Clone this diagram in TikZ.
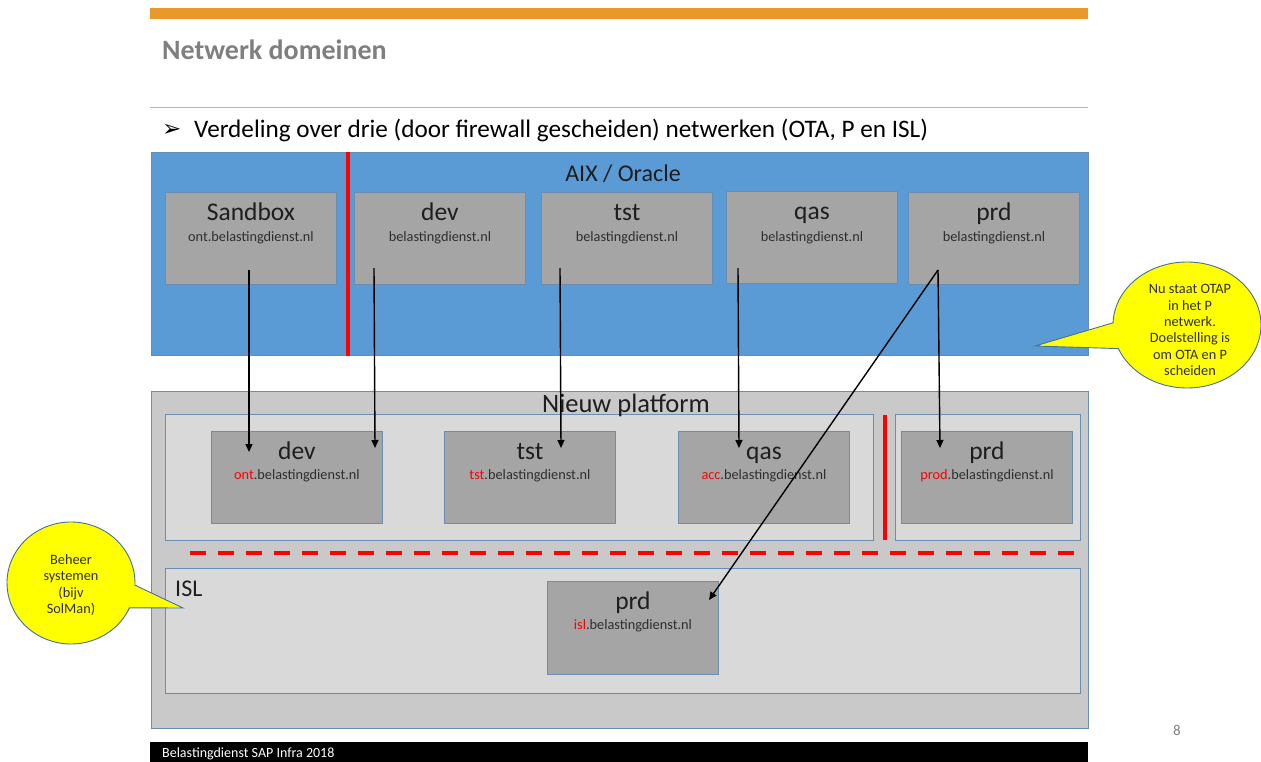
\documentclass[tikz,border=0pt]{standalone}
\usepackage{fontspec}
\setmainfont{Carlito}
\newfontfamily\dejavu{DejaVu Sans}
\usetikzlibrary{arrows.meta,calc}
\definecolor{orng}{HTML}{E8992A}
\definecolor{aixblue}{HTML}{5B9BD5}
\definecolor{bord}{HTML}{41719C}
\definecolor{boxbord}{HTML}{6A8DB3}
\definecolor{boxgray}{HTML}{A5A5A5}
\definecolor{platgray}{HTML}{C9C9C9}
\definecolor{innergray}{HTML}{D9D9D9}
\definecolor{ttlgray}{HTML}{7F7F7F}
\definecolor{txtdark}{HTML}{1E1E1E}
\definecolor{domtxt}{HTML}{2E2E2E}
\definecolor{fwred}{HTML}{FF0000}
\definecolor{calyellow}{HTML}{FFFF00}
\begin{document}
\begin{tikzpicture}[x=1pt,y=-1pt,
  region/.style={draw=boxbord, line width=0.9pt, inner sep=0pt, anchor=north west},
  sysbox/.style={draw=boxbord, line width=0.9pt, fill=boxgray, minimum width=171pt, minimum height=92pt, inner sep=0pt, anchor=north west},
  ttl/.style={font=\fontsize{25.5}{29}\selectfont, text=txtdark, inner sep=0pt, anchor=base},
  dom/.style={font=\fontsize{14.3}{17}\selectfont, text=domtxt, inner sep=0pt, anchor=base},
  lbl/.style={font=\fontsize{24}{28}\selectfont, text=txtdark, inner sep=0pt, anchor=base},
  arr/.style={line width=1.4pt, draw=black, -{Triangle[length=8pt,width=7pt]}},
  fwline/.style={draw=fwred, line width=3.5pt},
  callout/.style={draw=bord, line width=0.9pt, fill=calyellow},
  calltxt/.style={font=\fontsize{14.3}{16.3}\selectfont, text=black!85!olive, align=center, inner sep=0pt}
]
\useasboundingbox (0,0) rectangle (1261,762);
\fill[white] (0,0) rectangle (1261,762);

% header
\fill[orng] (150,8) rectangle (1088,19);
\node[font=\fontsize{28}{32}\selectfont\bfseries, text=ttlgray, inner sep=0pt, anchor=base west] (title) at (162,60) {Netwerk domeinen};
\draw[draw=black!28, line width=1pt] (150,108) -- (1088,108);
\node[font=\fontsize{23}{26}\selectfont\dejavu, inner sep=0pt, anchor=base west] (bul) at (162,137) {➢};
\node[font=\fontsize{25.2}{29}\selectfont, text=black, inner sep=0pt, anchor=base west] (sub) at (194,138) {Verdeling over drie (door firewall gescheiden) netwerken (OTA, P en ISL)};

% regions
\node[region, fill=aixblue, draw=bord!80, minimum width=937pt, minimum height=203pt] (aix) at (151,152) {};
\node[region, fill=platgray, minimum width=937pt, minimum height=337pt] (plat) at (151,391) {};
\node[region, fill=innergray, minimum width=708pt, minimum height=126pt] (ota) at (165,414) {};
\node[region, fill=innergray, minimum width=185pt, minimum height=126pt] (pnet) at (895,414) {};
\node[region, fill=innergray, minimum width=915pt, minimum height=125pt] (isl) at (165,568) {};

\node[lbl] (aixT) at (623,182) {AIX / Oracle};
\node[lbl, font=\fontsize{26.5}{30}\selectfont] (platT) at (626,412) {Nieuw platform};
\node[lbl, anchor=base west] (islT) at (175,596) {ISL};

% firewalls
\draw[fwline] ([xshift=197pt]aix.north west) -- ([xshift=197pt]aix.south west);
\draw[fwline, line width=4pt] ([shift={(-10,1)}]pnet.north west) -- ([shift={(-10,-1)}]pnet.south west);
\draw[fwline, line width=4pt, dash pattern=on 16pt off 12pt] ([shift={(25,-15)}]isl.north west) -- ([shift={(0,-15)}]isl.north east);

% top systems
\node[sysbox] (sb) at (165,192) {};
\node[sysbox] (tdev) at (354,192) {};
\node[sysbox] (ttst) at (541,192) {};
\node[sysbox] (tqas) at (726,191) {};
\node[sysbox] (tprd) at (908,192) {};
\node[ttl] (sbT) at ([shift={(0,29)}]sb.north) {Sandbox};
\node[dom] (sbD) at ([shift={(0,50)}]sb.north) {ont.belastingdienst.nl};
\node[ttl] (tdevT) at ([shift={(0,29)}]tdev.north) {dev};
\node[dom] (tdevD) at ([shift={(0,50)}]tdev.north) {belastingdienst.nl};
\node[ttl] (ttstT) at ([shift={(0,29)}]ttst.north) {tst};
\node[dom] (ttstD) at ([shift={(0,50)}]ttst.north) {belastingdienst.nl};
\node[ttl] (tqasT) at ([shift={(0,29)}]tqas.north) {qas};
\node[dom] (tqasD) at ([shift={(0,50)}]tqas.north) {belastingdienst.nl};
\node[ttl] (tprdT) at ([shift={(0,29)}]tprd.north) {prd};
\node[dom] (tprdD) at ([shift={(0,50)}]tprd.north) {belastingdienst.nl};

% lower systems
\node[sysbox] (ldev) at (211,431) {};
\node[sysbox] (ltst) at (444,431) {};
\node[sysbox] (lqas) at (678,431) {};
\node[sysbox] (lprd) at (901,431) {};
\node[sysbox, minimum height=93pt] (iprd) at (547,581) {};
\node[ttl] (ldevT) at ([shift={(0,28)}]ldev.north) {dev};
\node[dom] (ldevD) at ([shift={(0,48)}]ldev.north) {{\color{fwred}ont}.belastingdienst.nl};
\node[ttl] (ltstT) at ([shift={(0,28)}]ltst.north) {tst};
\node[dom] (ltstD) at ([shift={(0,48)}]ltst.north) {{\color{fwred}tst}.belastingdienst.nl};
\node[ttl] (lqasT) at ([shift={(0,28)}]lqas.north) {qas};
\node[dom] (lqasD) at ([shift={(0,48)}]lqas.north) {{\color{fwred}acc}.belastingdienst.nl};
\node[ttl] (lprdT) at ([shift={(0,28)}]lprd.north) {prd};
\node[dom] (lprdD) at ([shift={(0,48)}]lprd.north) {{\color{fwred}prod}.belastingdienst.nl};
\node[ttl] (iprdT) at ([shift={(0,28)}]iprd.north) {prd};
\node[dom] (iprdD) at ([shift={(0,48)}]iprd.north) {{\color{fwred}isl}.belastingdienst.nl};

% connectors
\draw[arr] ([shift={(84,78)}]sb.north west) -- ([shift={(38,21)}]ldev.north west);
\draw[arr] ([shift={(20,76)}]tdev.north west) -- ([shift={(164,17)}]ldev.north west);
\draw[arr] ([shift={(19,76)}]ttst.north west) -- ([shift={(117,17)}]ltst.north west);
\draw[arr] ([shift={(12,77)}]tqas.north west) -- ([shift={(61,17)}]lqas.north west);
\draw[arr] ([shift={(30,78)}]tprd.north west) -- ([shift={(39,17)}]lprd.north west);
\draw[arr] ([shift={(30,78)}]tprd.north west) -- ([shift={(162,19)}]iprd.north west);

% callouts
\coordinate (cc1) at (1187,325);
\draw[callout] ($(cc1)+(182:74 and 63)$) arc[start angle=182, end angle=518, x radius=74, y radius=63] -- ([shift={(-152,21)}]cc1) -- cycle;
\node[calltxt] (c1) at (1190,330) {Nu staat OTAP\\in het P\\netwerk.\\Doelstelling is\\om OTA en P\\scheiden};

\coordinate (cc2) at (71,583);
\draw[callout] ($(cc2)+(24:64 and 61)$) arc[start angle=24, end angle=362, x radius=64, y radius=61] -- ([shift={(112,25)}]cc2) -- cycle;
\node[calltxt] (c2) at (71,585) {Beheer\\systemen\\(bijv\\SolMan)};

% footer
\fill[black] (150,742) rectangle (1088,762);
\node[font=\fontsize{14}{16}\selectfont, text=white, inner sep=0pt, anchor=base west] (foot) at (162,757) {Belastingdienst SAP Infra 2018};
\node[font=\fontsize{15}{18}\selectfont, text=black!50, inner sep=0pt, anchor=base] (pg) at (1177,735) {8};
\end{tikzpicture}
\end{document}
